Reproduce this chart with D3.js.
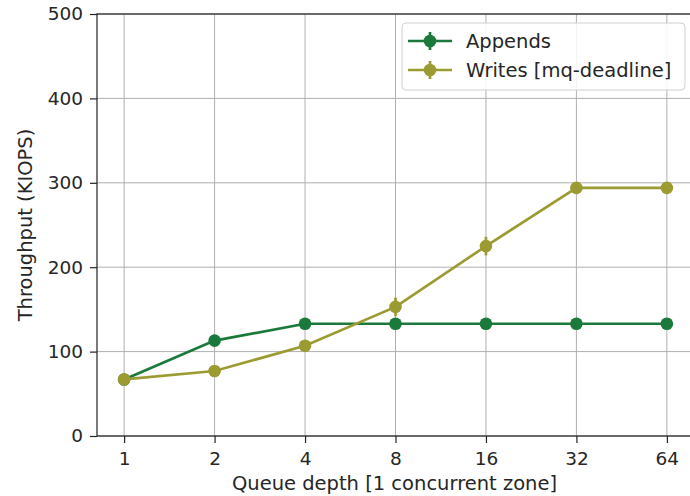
<!DOCTYPE html>
<html>
<head>
<meta charset="utf-8">
<script src="https://cdn.jsdelivr.net/npm/d3@7"></script>
<style>
  html, body { margin: 0; padding: 0; background: #fff; }
  svg { display: block; font-family: "DejaVu Sans", sans-serif; }
</style>
</head>
<body>
<svg id="chart" width="690" height="496"></svg>
<script>
// Queue depths (log2 x axis)
const queueDepths = [1, 2, 4, 8, 16, 32, 64];
const xTickLabels = ["1", "2", "4", "8", "16", "32", "64"];
const yTicks = [0, 100, 200, 300, 400, 500];

// Throughput in KIOPS
const appendsValues = [67, 113, 133, 133, 133, 133, 133];
const appendsErrors = [0, 0, 0, 0, 0, 0, 0];
const writesValues = [67, 77, 107, 153, 225, 294, 294];
const writesErrors = [0, 0, 0, 11, 11, 0, 0];

const seriesNames = ["Appends", "Writes [mq-deadline]"];
const seriesColors = ["#1b7a3b", "#9c9b32"];

const margin = { left: 97, top: 14, right: 694, bottom: 436 };
const svg = d3.select("#chart");
const textColor = "#262626";

const x = d3.scaleLog().base(2)
  .domain([Math.pow(2, -0.3), Math.pow(2, 6.3)])
  .range([margin.left, margin.right]);
const y = d3.scaleLinear().domain([0, 500]).range([margin.bottom, margin.top]);

// grid
const grid = svg.append("g").attr("stroke", "#b0b0b0").attr("stroke-width", 1);
queueDepths.forEach(d => grid.append("line")
  .attr("x1", x(d)).attr("x2", x(d)).attr("y1", margin.top).attr("y2", margin.bottom));
yTicks.forEach(d => grid.append("line")
  .attr("x1", margin.left).attr("x2", margin.right).attr("y1", y(d)).attr("y2", y(d)));

// axes
const xAxis = d3.axisBottom(x).tickValues(queueDepths)
  .tickFormat((d, i) => xTickLabels[i]).tickSize(7).tickPadding(9);
const yAxis = d3.axisLeft(y).tickValues(yTicks).tickSize(7).tickPadding(7);

const gx = svg.append("g").attr("transform", `translate(0,${margin.bottom})`).call(xAxis);
const gy = svg.append("g").attr("transform", `translate(${margin.left},0)`).call(yAxis);
[gx, gy].forEach(g => {
  g.select(".domain").remove();
  g.selectAll("line").attr("stroke", "#222").attr("stroke-width", 1.2);
  g.selectAll("text").attr("font-size", 18.5).attr("fill", textColor)
    .attr("font-family", "DejaVu Sans, sans-serif");
});

// spines
svg.append("rect")
  .attr("x", margin.left).attr("y", margin.top)
  .attr("width", margin.right - margin.left).attr("height", margin.bottom - margin.top)
  .attr("fill", "none").attr("stroke", "#222").attr("stroke-width", 1.2);

// axis titles
svg.append("text").attr("x", (margin.left + margin.right) / 2 - 1).attr("y", 490)
  .attr("text-anchor", "middle").attr("font-size", 19.5).attr("fill", textColor)
  .text("Queue depth [1 concurrent zone]");
svg.append("text")
  .attr("transform", `translate(32,${(margin.top + margin.bottom) / 2}) rotate(-90)`)
  .attr("text-anchor", "middle").attr("font-size", 19.5).attr("fill", textColor)
  .text("Throughput (KIOPS)");

// series
const series = [
  { values: appendsValues, errors: appendsErrors },
  { values: writesValues, errors: writesErrors }
];
const line = d3.line().x((d, i) => x(queueDepths[i])).y(d => y(d));

series.forEach((s, k) => {
  const g = svg.append("g");
  const c = seriesColors[k];
  g.append("path").attr("d", line(s.values)).attr("fill", "none")
    .attr("stroke", c).attr("stroke-width", 2.7);
  s.values.forEach((v, i) => {
    if (s.errors[i] > 0) {
      g.append("line").attr("x1", x(queueDepths[i])).attr("x2", x(queueDepths[i]))
        .attr("y1", y(v - s.errors[i])).attr("y2", y(v + s.errors[i]))
        .attr("stroke", c).attr("stroke-width", 2.7);
    }
    g.append("circle").attr("cx", x(queueDepths[i])).attr("cy", y(v))
      .attr("r", 6.3).attr("fill", c);
  });
});

// legend
const legend = svg.append("g");
legend.append("rect").attr("x", 402).attr("y", 23).attr("width", 283).attr("height", 67)
  .attr("rx", 4).attr("fill", "#fff").attr("fill-opacity", 0.85)
  .attr("stroke", "#d0d0d0").attr("stroke-width", 1);
seriesNames.forEach((name, k) => {
  const cy = 41 + k * 29;
  const c = seriesColors[k];
  legend.append("line").attr("x1", 408).attr("x2", 452).attr("y1", cy).attr("y2", cy)
    .attr("stroke", c).attr("stroke-width", 2.7);
  legend.append("line").attr("x1", 430).attr("x2", 430).attr("y1", cy - 9).attr("y2", cy + 9)
    .attr("stroke", c).attr("stroke-width", 2.7);
  legend.append("circle").attr("cx", 430).attr("cy", cy).attr("r", 6.3).attr("fill", c);
  legend.append("text").attr("x", 466).attr("y", cy + 7).attr("font-size", 19.5)
    .attr("fill", textColor).text(name);
});
</script>
</body>
</html>
